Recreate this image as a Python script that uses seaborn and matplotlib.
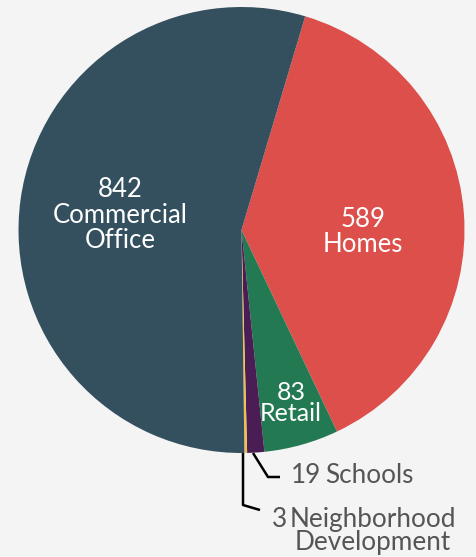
import matplotlib
matplotlib.use("Agg")
import matplotlib.pyplot as plt
import seaborn as sns

categories = ["Homes", "Retail", "Schools", "Neighborhood Development", "Commercial Office"]
values = [589, 83, 19, 3, 842]
colors = ["#dd4f4a", "#237a52", "#4a1d55", "#f2c04f", "#34505f"]

sns.set_theme(style="white")
plt.rcParams['font.family'] = ['Lato', 'DejaVu Sans']

W, H = 477, 557
fig = plt.figure(figsize=(W / 100, H / 100), dpi=100)
fig.patch.set_facecolor("#f4f4f4")
ax = fig.add_axes([0, 0, 1, 1])
ax.set_facecolor("#f4f4f4")

cx, cy, r = 241.5, 230, 223
start = 16.6  # degrees clockwise from top
wedges, _ = ax.pie(values, colors=colors, center=(cx, cy), radius=r,
                   startangle=-90 + start, counterclock=True,
                   wedgeprops=dict(linewidth=0), frame=True)
ax.set_xlim(0, W)
ax.set_ylim(H, 0)
ax.set_aspect("equal")
ax.axis("off")


def lines(x, ys, texts, **kw):
    for y, t in zip(ys, texts):
        ax.text(x, y, t, va="baseline", **kw)


fs = 18.5
lines(120, [197, 223, 248], [str(values[4]), "Commercial", "Office"],
      color="white", fontsize=fs, ha="center")
lines(363, [227, 252], [str(values[0]), "Homes"], color="white", fontsize=fs, ha="center")
lines(291, [400, 421], [str(values[1]), "Retail"], color="white", fontsize=18, ha="center")

gray = "#555555"
fo = 18.8
ax.plot([253, 268, 280], [453, 477, 477], color="black", lw=1.8, solid_capstyle="butt")
ax.text(291, 483, str(values[2]), color=gray, fontsize=fo, ha="left", va="baseline")
ax.text(325, 483, categories[2], color=gray, fontsize=fo, ha="left", va="baseline")
ax.plot([243, 243, 260], [453, 505, 510], color="black", lw=1.8, solid_capstyle="butt")
ax.text(272, 527, str(values[3]), color=gray, fontsize=fo, ha="left", va="baseline")
lines(373, [527, 550], ["Neighborhood", "Development"], color=gray, fontsize=fo, ha="center")

fig.savefig("out.png", dpi=100, facecolor=fig.get_facecolor())
